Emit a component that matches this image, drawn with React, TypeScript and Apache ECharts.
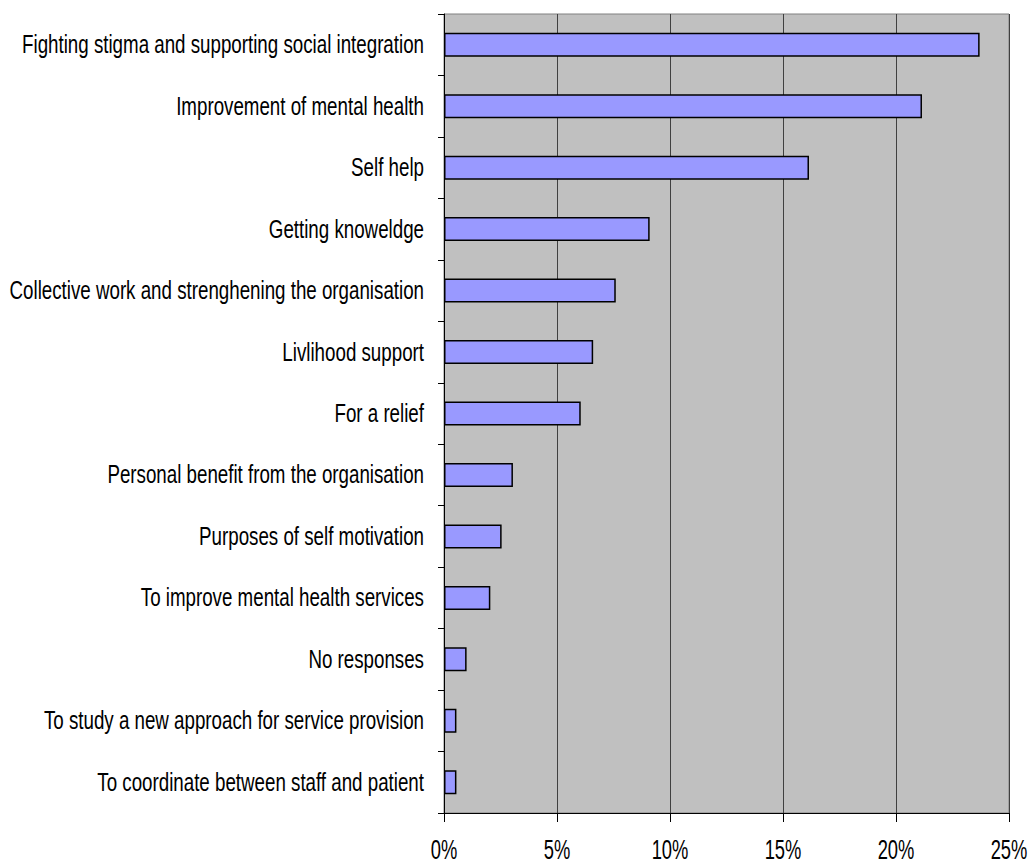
import React, { useEffect, useRef } from "react";
import * as echarts from "echarts";

const categories = [
  "Fighting stigma and supporting social integration",
  "Improvement of mental health",
  "Self help",
  "Getting knoweldge",
  "Collective work and strenghening the organisation",
  "Livlihood support",
  "For a relief",
  "Personal benefit from the organisation",
  "Purposes of self motivation",
  "To improve mental health services",
  "No responses",
  "To study a new approach for service provision",
  "To coordinate between staff and patient",
];

const values = [23.7, 21.15, 16.15, 9.1, 7.6, 6.6, 6.05, 3.05, 2.55, 2.05, 1.0, 0.55, 0.55];

const xTicks = [0, 5, 10, 15, 20, 25];

const FONT = '"Liberation Sans", Arial, sans-serif';

export default function App() {
  const ref = useRef<HTMLDivElement>(null);
  useEffect(() => {
    if (!ref.current) return;
    const chart = echarts.init(ref.current, undefined, { renderer: "svg" });
    chart.setOption({
      animation: false,
      backgroundColor: "#ffffff",
      grid: {
        left: 444,
        right: 22,
        top: 14,
        bottom: 54,
        show: true,
        outerBoundsMode: "none",
        containLabel: false,
        backgroundColor: "#C0C0C0",
        borderColor: "#808080",
        borderWidth: 1,
      },
      xAxis: {
        type: "value",
        min: xTicks[0],
        max: xTicks[xTicks.length - 1],
        interval: 5,
        axisLine: { show: true, lineStyle: { color: "#000", width: 1 } },
        axisTick: { show: true, length: 9, lineStyle: { color: "#000" } },
        splitLine: { show: true, lineStyle: { color: "#404040", width: 1 } },
        axisLabel: { show: false },
      },
      yAxis: {
        type: "category",
        data: categories,
        inverse: true,
        axisLine: { show: true, lineStyle: { color: "#000", width: 1 } },
        axisTick: { show: true, length: 6, inside: false, lineStyle: { color: "#000" } },
        axisLabel: { show: false },
        splitLine: { show: false },
      },
      series: [
        {
          type: "bar",
          data: values,
          barWidth: 24,
          itemStyle: { color: "#9999FF", borderColor: "#000", borderWidth: 1.5 },
        },
      ],
    });

    // Axis labels, horizontally condensed like the reference, placed through the axes' own scales.
    const x0 = chart.convertToPixel({ xAxisIndex: 0 }, xTicks[0]) as number;
    const graphics: any[] = [];
    categories.forEach((c, i) => {
      const y = chart.convertToPixel({ yAxisIndex: 0 }, i) as number;
      graphics.push({
        type: "text",
        x: x0 - 20,
        y,
        scaleX: 0.75,
        silent: true,
        style: {
          text: c,
          fontFamily: FONT,
          fontSize: 25,
          fill: "#000",
          align: "right",
          verticalAlign: "middle",
        },
      });
    });
    xTicks.forEach((t) => {
      const x = chart.convertToPixel({ xAxisIndex: 0 }, t) as number;
      graphics.push({
        type: "text",
        x,
        y: 850,
        scaleX: 0.68,
        silent: true,
        style: {
          text: t + "%",
          fontFamily: FONT,
          fontSize: 27,
          fill: "#000",
          align: "center",
          verticalAlign: "middle",
        },
      });
    });
    chart.setOption({ graphic: graphics });
    return () => chart.dispose();
  }, []);
  return (
    <div
      ref={ref}
      style={{ position: "fixed", left: 0, top: 0, width: 1031, height: 867, background: "#fff" }}
    />
  );
}
